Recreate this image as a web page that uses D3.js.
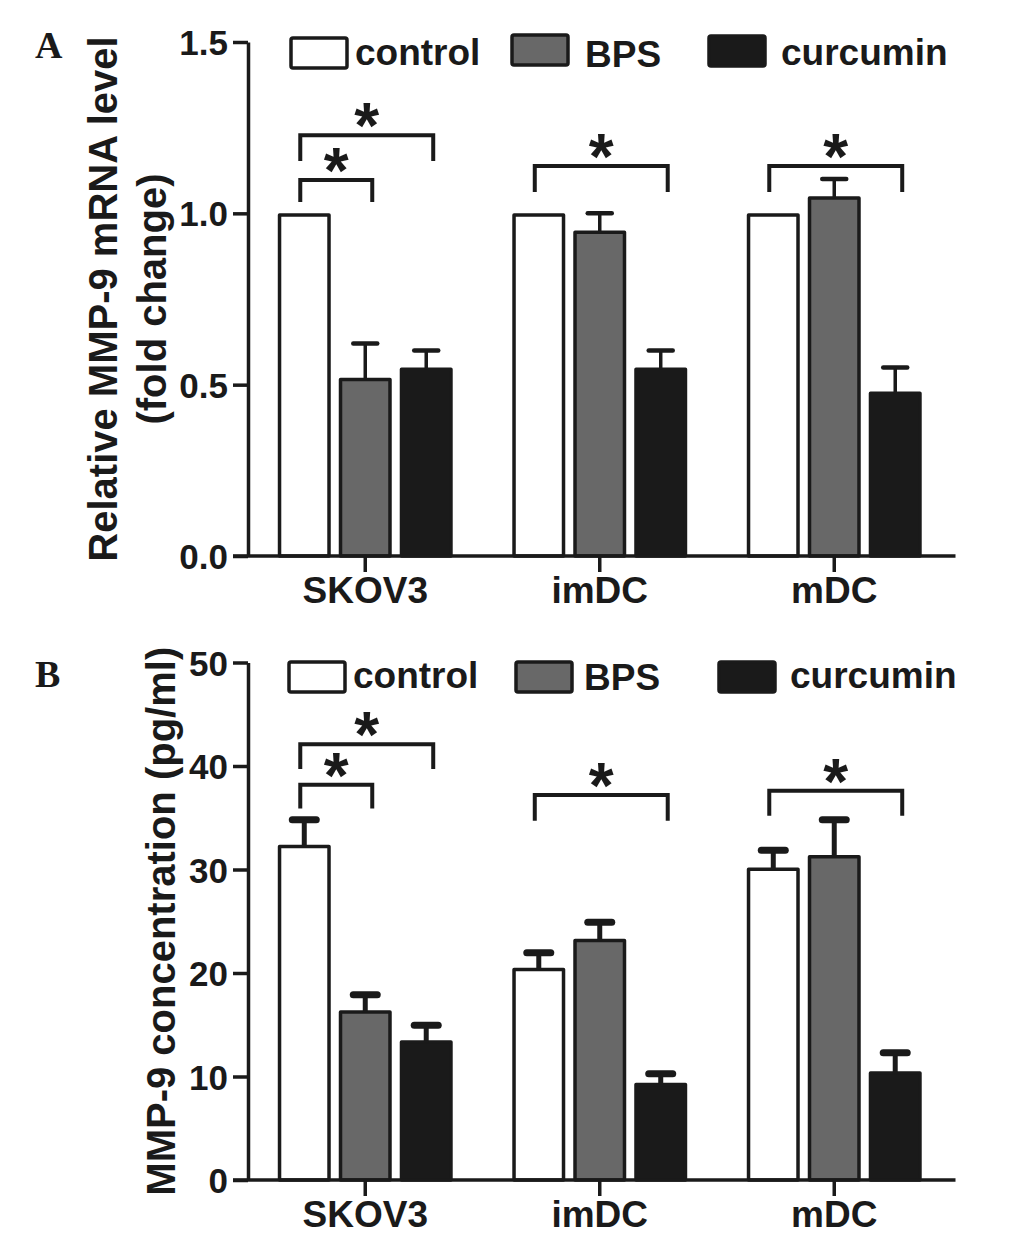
<!DOCTYPE html>
<html>
<head>
<meta charset="utf-8">
<script src="https://cdn.jsdelivr.net/npm/d3@7"></script>
<style>
  body { margin: 0; background: #fff; }
  text { font-family: "Liberation Sans", Arial, sans-serif; font-weight: bold; fill: #1a1a1a; }
  .panel-label { font-family: "Liberation Serif", "Times New Roman", serif; }
</style>
</head>
<body>
<svg width="1033" height="1245"></svg>
<script>
var groups = ["SKOV3", "imDC", "mDC"];
var series = ["control", "BPS", "curcumin"];
var fills = ["#ffffff", "#686868", "#1a1a1a"];

// panel A : relative mRNA (fold change), rows = groups, cols = series
var mrnaMean = [[1.0, 0.52, 0.55], [1.0, 0.95, 0.55], [1.0, 1.05, 0.48]];
var mrnaErr  = [[0, 0.10, 0.05], [0, 0.05, 0.05], [0, 0.05, 0.07]];
var mrnaTicks = [0, 0.5, 1.0, 1.5];
// significance brackets: group, from series, to series, top value, leg end value
var mrnaSig = [
    ["SKOV3", 0, 2, 1.228, 1.153],
    ["SKOV3", 0, 1, 1.097, 1.033],
    ["imDC", 0, 2, 1.138, 1.062],
    ["mDC", 0, 2, 1.138, 1.062]
];

// panel B : ELISA concentration (pg/ml)
var elisaMean = [[32.4, 16.4, 13.5], [20.5, 23.3, 9.4], [30.2, 31.4, 10.5]];
var elisaErr  = [[2.4, 1.5, 1.45], [1.45, 1.6, 0.87], [1.65, 3.4, 1.8]];
var elisaTicks = [0, 10, 20, 30, 40, 50];
var elisaSig = [
    ["SKOV3", 0, 2, 42.1, 39.7],
    ["SKOV3", 0, 1, 38.2, 35.9],
    ["imDC", 0, 2, 37.2, 34.7],
    ["mDC", 0, 2, 37.6, 35.2]
];

var svg = d3.select("svg");
var ink = "#1a1a1a";

var x0 = d3.scaleBand()
    .domain(groups)
    .range([248, 951.5])
    .paddingInner(0.254)
    .paddingOuter(0.127);

var x1 = d3.scaleBand()
    .domain(series)
    .range([0, x0.bandwidth()])
    .paddingInner(0.131);

function barCenter (g, s) {
    return x0(g) + x1(series[s]) + x1.bandwidth() / 2;
}

function drawPanel (cfg) {

    var y = d3.scaleLinear().domain(cfg.domain).range(cfg.range);
    var g = svg.append("g");

    // bars
    groups.forEach(function (grp, gi) {
        var bars = g.append("g").attr("transform", "translate(" + x0(grp) + ",0)");
        bars.selectAll("rect")
            .data(cfg.mean[gi])
            .enter().append("rect")
            .attr("x", function (d, i) { return x1(series[i]) + 1.75; })
            .attr("width", x1.bandwidth() - 3.5)
            .attr("y", function (d) { return y(d) + 1.75; })
            .attr("height", function (d) { return y(0) - y(d) - 1.75; })
            .attr("fill", function (d, i) { return fills[i]; })
            .attr("stroke", ink)
            .attr("stroke-width", 3.5)
            .attr("stroke-linejoin", "round");

        // error bars (upper only)
        cfg.mean[gi].forEach(function (m, si) {
            var e = cfg.err[gi][si];
            if (!e) { return; }
            var cx = barCenter(grp, si);
            g.append("line")
                .attr("x1", cx).attr("x2", cx)
                .attr("y1", y(m) + 2).attr("y2", y(m + e))
                .attr("stroke", ink).attr("stroke-width", cfg.errWidth);
            g.append("line")
                .attr("x1", cx - 12).attr("x2", cx + 12)
                .attr("y1", y(m + e)).attr("y2", y(m + e))
                .attr("stroke", ink).attr("stroke-width", cfg.capWidth)
                .attr("stroke-linecap", "round");
        });
    });

    // y axis
    var yAxis = g.append("g")
        .attr("transform", "translate(248,0)")
        .call(d3.axisLeft(y).tickValues(cfg.ticks).tickFormat(d3.format(cfg.fmt))
            .tickSize(15).tickSizeOuter(0).tickPadding(5));
    yAxis.select(".domain").attr("stroke", ink).attr("stroke-width", 3.5);
    yAxis.selectAll(".tick line").attr("stroke", ink).attr("stroke-width", 3.5);
    yAxis.selectAll(".tick text")
        .attr("font-size", 35).attr("font-family", null).attr("fill", ink)
        .attr("dy", "0.36em");

    // x axis
    var xAxis = g.append("g")
        .attr("transform", "translate(0," + y(0) + ")")
        .call(d3.axisBottom(x0).tickSize(16).tickSizeOuter(0).tickPadding(5));
    xAxis.select(".domain").remove();
    xAxis.append("line")
        .attr("x1", 233).attr("x2", x0.range()[1] + 4)
        .attr("stroke", ink).attr("stroke-width", 3.5);
    xAxis.selectAll(".tick line").attr("stroke", ink).attr("stroke-width", 3.5);
    xAxis.selectAll(".tick text")
        .attr("font-size", 37).attr("font-family", null).attr("fill", ink);

    // significance brackets
    cfg.sig.forEach(function (s) {
        var xa = barCenter(s[0], s[1]) - 4;
        var xb = barCenter(s[0], s[2]) + 7;
        var top = y(s[3]), bot = y(s[4]);
        g.append("path")
            .attr("d", "M" + xa + "," + bot + "V" + top + "H" + xb + "V" + bot)
            .attr("fill", "none")
            .attr("stroke", ink)
            .attr("stroke-width", 4);
        g.append("text")
            .attr("x", (xa + xb) / 2)
            .attr("y", top + 13)
            .attr("text-anchor", "middle")
            .attr("font-size", 64)
            .text("*");
    });

    // legend
    cfg.legend.forEach(function (l, i) {
        g.append("rect")
            .attr("x", l[0]).attr("y", l[1])
            .attr("width", 56).attr("height", 30)
            .attr("rx", 2)
            .attr("fill", fills[i])
            .attr("stroke", ink).attr("stroke-width", 3.5);
        g.append("text")
            .attr("x", l[2]).attr("y", l[3])
            .attr("font-size", 37)
            .text(series[i]);
    });

    // y title
    var cy = (cfg.range[0] + cfg.range[1]) / 2;
    cfg.title.forEach(function (t) {
        g.append("text")
            .attr("transform", "translate(" + t[1] + "," + cy + ") rotate(-90)")
            .attr("text-anchor", "middle")
            .attr("font-size", 40)
            .text(t[0]);
    });

    // panel letter
    g.append("text")
        .attr("class", "panel-label")
        .attr("x", 35).attr("y", cfg.letterY)
        .attr("font-size", 38)
        .text(cfg.letter);
}

drawPanel({
    letter: "A", letterY: 58,
    mean: mrnaMean, err: mrnaErr, sig: mrnaSig,
    domain: [0, 1.5], range: [556, 42],
    ticks: mrnaTicks, fmt: ".1f",
    errWidth: 3.5, capWidth: 4.5,
    legend: [[291, 38, 355, 65], [512, 35, 585, 67], [709, 36, 781, 65]],
    title: [["Relative MMP-9 mRNA level", 117], ["(fold change)", 166]]
});

drawPanel({
    letter: "B", letterY: 687,
    mean: elisaMean, err: elisaErr, sig: elisaSig,
    domain: [0, 50], range: [1180, 662.5],
    ticks: elisaTicks, fmt: "d",
    errWidth: 5, capWidth: 7,
    legend: [[289, 662, 353, 688], [516, 662, 584, 690], [719, 662, 790, 688]],
    title: [["MMP-9 concentration (pg/ml)", 175]]
});
</script>
</body>
</html>
